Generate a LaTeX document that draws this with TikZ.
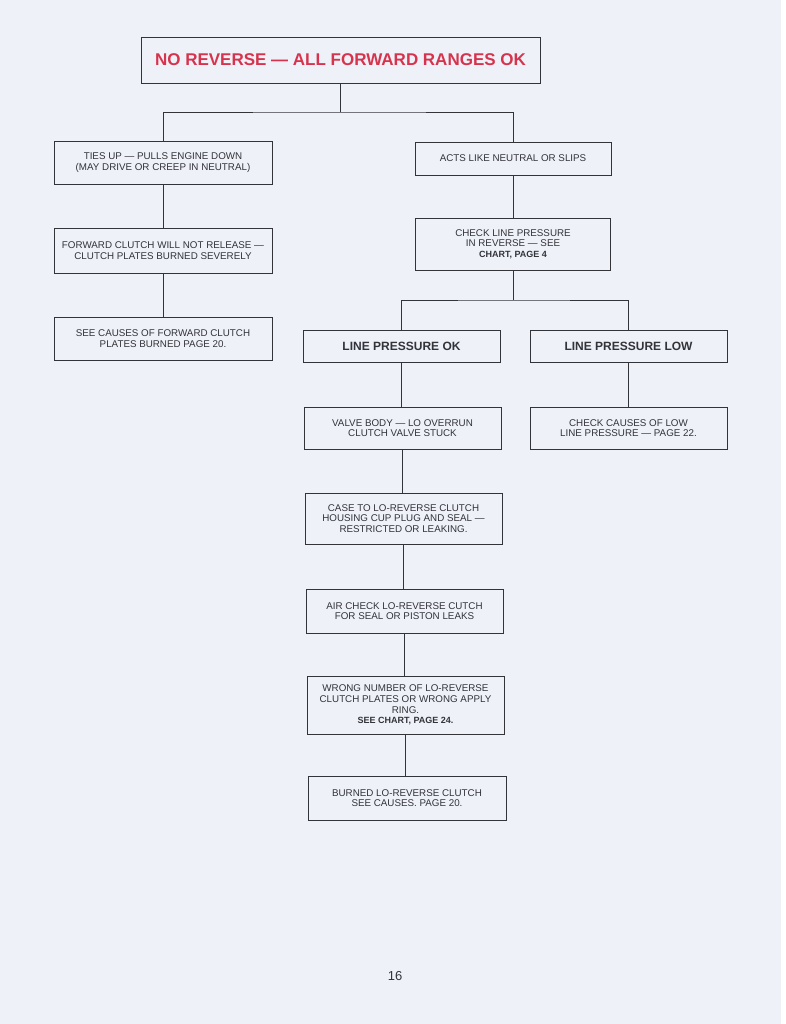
\documentclass[tikz,border=0pt]{standalone}
\usepackage{fontspec}
\setmainfont{Liberation Sans}
\definecolor{paper}{HTML}{EEF2F8}
\definecolor{ink}{HTML}{33333A}
\definecolor{titlered}{HTML}{D6344E}
\begin{document}
\begin{tikzpicture}[x=1pt,y=-1pt,
  box/.style={draw=ink,line width=0.8pt,fill=paper,text=ink,align=center,inner sep=2pt,
    font=\fontsize{9.8}{10.6}\selectfont},
  bigbox/.style={box,font=\fontsize{12}{14}\selectfont\bfseries},
  link/.style={draw=ink,line width=0.8pt}]
\useasboundingbox (0,0) rectangle (786,1024);
\fill[paper] (0,0) rectangle (786,1024);
\fill[white] (781,0) rectangle (786,1024);

\node[box,minimum width=399pt,minimum height=46pt,text=titlered,
  font=\fontsize{17}{20}\selectfont\bfseries] (title) at (340.5,60) {NO REVERSE --- ALL FORWARD RANGES OK};

\node[box,minimum width=218pt,minimum height=43pt] (ties) at (163,162.5)
  {TIES UP --- PULLS ENGINE DOWN\\(MAY DRIVE OR CREEP IN NEUTRAL)};
\node[box,minimum width=196pt,minimum height=33pt] (acts) at (513,158.5)
  {ACTS LIKE NEUTRAL OR SLIPS};
\node[box,minimum width=218pt,minimum height=45pt] (fwd) at (163,250.5)
  {FORWARD CLUTCH WILL NOT RELEASE ---\\CLUTCH PLATES BURNED SEVERELY};
\node[box,minimum width=195pt,minimum height=52pt] (check) at (513,244)
  {CHECK LINE PRESSURE\\IN REVERSE --- SEE\\{\bfseries\fontsize{9}{10.6}\selectfont CHART, PAGE 4}};
\node[box,minimum width=218pt,minimum height=43pt] (see) at (163,338.5)
  {SEE CAUSES OF FORWARD CLUTCH\\PLATES BURNED PAGE 20.};

\node[bigbox,minimum width=197pt,minimum height=32pt] (ok) at (401.5,346)
  {LINE PRESSURE OK};
\node[bigbox,minimum width=197pt,minimum height=32pt] (low) at (628.5,346)
  {LINE PRESSURE LOW};

\node[box,minimum width=197pt,minimum height=42pt] (valve) at (402.5,428)
  {VALVE BODY --- LO OVERRUN\\CLUTCH VALVE STUCK};
\node[box,minimum width=197pt,minimum height=42pt] (causes) at (628.5,428)
  {CHECK CAUSES OF LOW\\LINE PRESSURE --- PAGE 22.};
\node[box,minimum width=197pt,minimum height=51pt] (case) at (403.5,518.5)
  {CASE TO LO-REVERSE CLUTCH\\HOUSING CUP PLUG AND SEAL ---\\RESTRICTED OR LEAKING.};
\node[box,minimum width=197pt,minimum height=44pt] (air) at (404.5,611)
  {AIR CHECK LO-REVERSE CUTCH\\FOR SEAL OR PISTON LEAKS};
\node[box,minimum width=197pt,minimum height=58pt] (wrong) at (405.5,705)
  {WRONG NUMBER OF LO-REVERSE\\CLUTCH PLATES OR WRONG APPLY\\RING.\\{\bfseries\fontsize{9}{10.6}\selectfont SEE CHART, PAGE 24.}};
\node[box,minimum width=198pt,minimum height=44pt] (burned) at (407,798)
  {BURNED LO-REVERSE CLUTCH\\SEE CAUSES. PAGE 20.};

\node[text=ink,font=\fontsize{13}{15}\selectfont] (page) at (395,976) {16};

\coordinate (j1) at (340.5,112);
\coordinate (j2) at (513,300);
\draw[link] (title.south) -- (j1);
\draw[link] (ties.north) |- (j1) -| (acts.north);
\draw[link] (ties) -- (fwd);
\draw[link] (fwd) -- (see);
\draw[link] (acts) -- (check);
\draw[link] (check.south) -- (j2);
\draw[link] (ok.north) |- (j2) -| (low.north);
\draw[link] (ok.south) -- (ok.south |- valve.north);
\draw[link] (low) -- (causes);
\draw[link] (valve.south) -- (valve.south |- case.north);
\draw[link] (case.south) -- (case.south |- air.north);
\draw[link] (air.south) -- (air.south |- wrong.north);
\draw[link] (wrong.south) -- (wrong.south |- burned.north);
\end{tikzpicture}
\end{document}
